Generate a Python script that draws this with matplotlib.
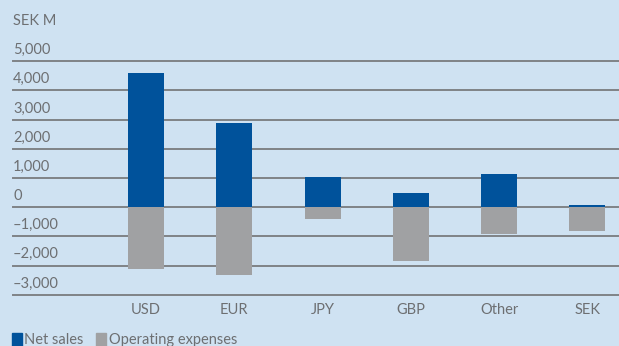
import matplotlib
matplotlib.use("Agg")
import matplotlib.pyplot as plt
from matplotlib.patches import Rectangle

# Net sales and operating expenses per currency, SEK M
currencies = ["USD", "EUR", "JPY", "GBP", "Other", "SEK"]
net_sales = [4610, 2870, 1020, 470, 1120, 60]
operating_expenses = [-2120, -2330, -420, -1850, -925, -800]

y_ticks = [5000, 4000, 3000, 2000, 1000, 0, -1000, -2000, -3000]

BG = "#cfe2f2"
BLUE = "#00529b"
GREY = "#a0a1a3"
TEXT = "#6d6f72"
LINE = "#7f8387"

plt.rcParams["font.family"] = ["Lato", "DejaVu Sans"]

W, H = 619, 346
fig = plt.figure(figsize=(W / 100, H / 100), dpi=100, facecolor=BG)


def fx(px):
    return px / W


def fy(py):
    return 1 - py / H


# axes spans from the -3,000 line up to the 5,000 line
ax = fig.add_axes([fx(13), fy(294.7), fx(619 - 13), fy(61.3) - fy(294.7)])
ax.set_facecolor(BG)
ax.set_xlim(-1.506, 5.357)
ax.set_ylim(-3000, 5000)
for s in ax.spines.values():
    s.set_visible(False)
ax.set_xticks([])
ax.set_yticks([])

for v in y_ticks:
    ax.axhline(v, color=LINE, lw=1.4, zorder=1, clip_on=False)
    label = f"{abs(v):,}"
    if v < 0:
        label = "\u2013" + label
    ax.annotate(label, (0, v), xycoords=("axes fraction", "data"),
                xytext=(0, 3), textcoords="offset points",
                ha="left", va="bottom", color=TEXT, fontsize=10.5)

ax.annotate("SEK M", (0, 6000), xycoords=("axes fraction", "data"),
            xytext=(0, 3), textcoords="offset points",
            ha="left", va="bottom", color=TEXT, fontsize=10.5)

x = range(len(currencies))
ax.bar(x, net_sales, width=0.408, color=BLUE, zorder=2)
ax.bar(x, operating_expenses, width=0.408, color=GREY, zorder=2)

for i, name in enumerate(currencies):
    ax.annotate(name, (i, -3000), xycoords="data",
                xytext=(0, -6), textcoords="offset points",
                ha="center", va="top", color=TEXT, fontsize=10.5)

# title line sits above the top edge, only its descenders show
fig.text(fx(40), fy(-2.5), "Net sales and operating expenses per currency",
         ha="left", va="baseline", color="#0a5db0", fontsize=12, fontweight="bold")

# legend
fig.patches.append(Rectangle((fx(12), fy(346)), fx(9.5), fy(333) - fy(346),
                             transform=fig.transFigure, color=BLUE))
fig.text(fx(24), fy(344), "Net sales", ha="left", va="baseline",
         color=TEXT, fontsize=10.5)
fig.patches.append(Rectangle((fx(96), fy(346)), fx(9.5), fy(333) - fy(346),
                             transform=fig.transFigure, color=GREY))
fig.text(fx(109), fy(344), "Operating expenses", ha="left", va="baseline",
         color=TEXT, fontsize=10.5)

fig.savefig("out.png", dpi=100, facecolor=BG)
